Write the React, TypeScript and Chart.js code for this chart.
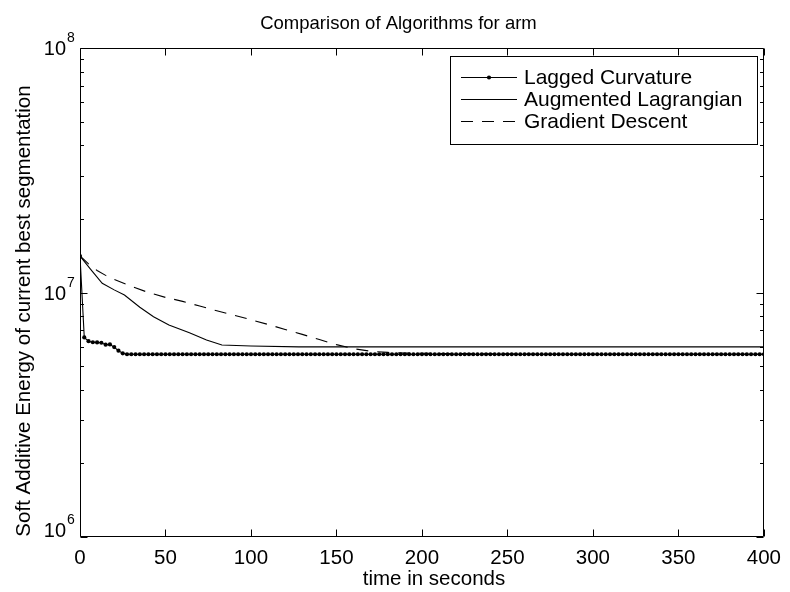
import React, { useEffect, useRef } from "react";
import { Chart, registerables } from "chart.js";

Chart.register(...registerables);

const TITLE = "Comparison of Algorithms for arm";
const X_LABEL = "time in seconds";
const Y_LABEL = "Soft Additive Energy of current best segmentation";
const SERIES_NAMES = ["Lagged Curvature", "Augmented Lagrangian", "Gradient Descent"];

const X_TICKS = [0, 50, 100, 150, 200, 250, 300, 350, 400];
const Y_MAJOR = [1e6, 1e7, 1e8];
const Y_MINOR = [2e6, 3e6, 4e6, 5e6, 6e6, 7e6, 8e6, 9e6, 2e7, 3e7, 4e7, 5e7, 6e7, 7e7, 8e7, 9e7];

const lagTimes = [
  0, 2.5, 5, 7.5, 10, 12.5, 15, 17.5, 20, 22.5,
  25, 27.5, 30, 32.5, 35, 37.5, 40, 42.5, 45, 47.5,
  50, 52.5, 55, 57.5, 60, 62.5, 65, 67.5, 70, 72.5,
  75, 77.5, 80, 82.5, 85, 87.5, 90, 92.5, 95, 97.5,
  100, 102.5, 105, 107.5, 110, 112.5, 115, 117.5, 120, 122.5,
  125, 127.5, 130, 132.5, 135, 137.5, 140, 142.5, 145, 147.5,
  150, 152.5, 155, 157.5, 160, 162.5, 165, 167.5, 170, 172.5,
  175, 177.5, 180, 182.5, 185, 187.5, 190, 192.5, 195, 197.5,
  200, 202.5, 205, 207.5, 210, 212.5, 215, 217.5, 220, 222.5,
  225, 227.5, 230, 232.5, 235, 237.5, 240, 242.5, 245, 247.5,
  250, 252.5, 255, 257.5, 260, 262.5, 265, 267.5, 270, 272.5,
  275, 277.5, 280, 282.5, 285, 287.5, 290, 292.5, 295, 297.5,
  300, 302.5, 305, 307.5, 310, 312.5, 315, 317.5, 320, 322.5,
  325, 327.5, 330, 332.5, 335, 337.5, 340, 342.5, 345, 347.5,
  350, 352.5, 355, 357.5, 360, 362.5, 365, 367.5, 370, 372.5,
  375, 377.5, 380, 382.5, 385, 387.5, 390, 392.5, 395, 397.5,
  400,
];
const lagValues = [
  14100000, 6550000, 6320000, 6260000, 6250000, 6230000, 6120000, 6130000, 5980000, 5780000,
  5640000, 5590000, 5590000, 5590000, 5590000, 5590000, 5590000, 5590000, 5590000, 5590000,
  5590000, 5590000, 5590000, 5590000, 5590000, 5590000, 5590000, 5590000, 5590000, 5590000,
  5590000, 5590000, 5590000, 5590000, 5590000, 5590000, 5590000, 5590000, 5590000, 5590000,
  5590000, 5590000, 5590000, 5590000, 5590000, 5590000, 5590000, 5590000, 5590000, 5590000,
  5590000, 5590000, 5590000, 5590000, 5590000, 5590000, 5590000, 5590000, 5590000, 5590000,
  5590000, 5590000, 5590000, 5590000, 5590000, 5590000, 5590000, 5590000, 5590000, 5590000,
  5590000, 5590000, 5590000, 5590000, 5590000, 5590000, 5590000, 5590000, 5590000, 5590000,
  5590000, 5590000, 5590000, 5590000, 5590000, 5590000, 5590000, 5590000, 5590000, 5590000,
  5590000, 5590000, 5590000, 5590000, 5590000, 5590000, 5590000, 5590000, 5590000, 5590000,
  5590000, 5590000, 5590000, 5590000, 5590000, 5590000, 5590000, 5590000, 5590000, 5590000,
  5590000, 5590000, 5590000, 5590000, 5590000, 5590000, 5590000, 5590000, 5590000, 5590000,
  5590000, 5590000, 5590000, 5590000, 5590000, 5590000, 5590000, 5590000, 5590000, 5590000,
  5590000, 5590000, 5590000, 5590000, 5590000, 5590000, 5590000, 5590000, 5590000, 5590000,
  5590000, 5590000, 5590000, 5590000, 5590000, 5590000, 5590000, 5590000, 5590000, 5590000,
  5590000, 5590000, 5590000, 5590000, 5590000, 5590000, 5590000, 5590000, 5590000, 5590000,
  5590000,
];

const augTimes = [0, 6, 13, 20, 26, 35, 43, 52, 64, 74, 83, 100, 128, 200, 300, 400];
const augValues = [
  14100000, 12500000, 10900000, 10250000, 9770000, 8700000, 7960000, 7360000, 6850000, 6390000,
  6100000, 6040000, 5990000, 5990000, 5990000, 5990000,
];

const gdTimes = [
  0, 5, 10, 15, 20, 30, 40, 50, 60, 70, 80, 90, 100, 110, 120, 130, 140, 150, 160, 170,
  180, 190, 215, 245, 270, 400,
];
const gdValues = [
  14100000, 13100000, 12300000, 11750000, 11300000, 10600000, 10000000, 9550000, 9200000, 8800000,
  8420000, 8080000, 7740000, 7400000, 7060000, 6740000, 6420000, 6120000, 5890000, 5750000,
  5690000, 5650000, 5630000, 5610000, 5590000, 5590000,
];

const FONT = 'Arial, "Liberation Sans", Helvetica, sans-serif';

const zip = (xs: number[], ys: number[]) => xs.map((x, i) => ({ x, y: ys[i] }));

const framePlugin = {
  id: "matlabFrame",
  afterDatasetsDraw(chart: any) {
    const { ctx, chartArea } = chart;
    const xs = chart.scales.x;
    const ys = chart.scales.y;
    const L = Math.round(chartArea.left) + 0.5;
    const R = Math.round(chartArea.right) - 0.5;
    const T = Math.round(chartArea.top) + 0.5;
    const B = Math.round(chartArea.bottom) - 0.5;
    ctx.save();
    ctx.strokeStyle = "#000";
    ctx.lineWidth = 1;
    ctx.beginPath();
    ctx.rect(L, T, R - L, B - T);
    X_TICKS.forEach((v) => {
      const px = Math.round(xs.getPixelForValue(v)) + 0.5;
      ctx.moveTo(px, B);
      ctx.lineTo(px, B - 7);
      ctx.moveTo(px, T);
      ctx.lineTo(px, T + 7);
    });
    Y_MAJOR.forEach((v) => {
      const py = Math.round(ys.getPixelForValue(v)) + 0.5;
      ctx.moveTo(L, py);
      ctx.lineTo(L + 7, py);
      ctx.moveTo(R, py);
      ctx.lineTo(R - 7, py);
    });
    Y_MINOR.forEach((v) => {
      const py = Math.round(ys.getPixelForValue(v)) + 0.5;
      ctx.moveTo(L, py);
      ctx.lineTo(L + 3.5, py);
      ctx.moveTo(R, py);
      ctx.lineTo(R - 3.5, py);
    });
    ctx.stroke();

    ctx.fillStyle = "#000";
    Y_MAJOR.forEach((v, i) => {
      const py = ys.getPixelForValue(v);
      const exp = Math.round(Math.log10(v));
      const base = i === 0 ? py - 0.5 : py + 7;
      ctx.font = `20px ${FONT}`;
      ctx.textAlign = "right";
      ctx.textBaseline = "alphabetic";
      ctx.fillText("10", 66, base);
      ctx.font = `14px ${FONT}`;
      ctx.textAlign = "left";
      ctx.fillText(String(exp), 67, base - 13);
    });

    ctx.font = `18.5px ${FONT}`;
    ctx.textAlign = "center";
    ctx.textBaseline = "alphabetic";
    ctx.fillText(TITLE, 398.5, 28.5);

    ctx.font = `20.5px ${FONT}`;
    ctx.fillText(X_LABEL, 434, 585);

    ctx.save();
    ctx.translate(30, 311);
    ctx.rotate(-Math.PI / 2);
    ctx.fillText(Y_LABEL, 0, 0);
    ctx.restore();

    const lx = 450.5, ly = 56.5, lw = 307, lh = 88;
    ctx.fillStyle = "#fff";
    ctx.fillRect(lx, ly, lw, lh);
    ctx.strokeStyle = "#000";
    ctx.lineWidth = 1;
    ctx.strokeRect(lx, ly, lw, lh);
    const rows = [77, 99, 121];
    chart.data.datasets.forEach((ds: any, i: number) => {
      const y = rows[i] + 0.5;
      ctx.save();
      ctx.strokeStyle = "#000";
      ctx.lineWidth = ds.borderWidth;
      ctx.setLineDash(ds.borderDash || []);
      ctx.beginPath();
      ctx.moveTo(461, y);
      ctx.lineTo(517, y);
      ctx.stroke();
      ctx.restore();
      if (ds.pointRadius > 0) {
        ctx.beginPath();
        ctx.fillStyle = "#000";
        ctx.arc(489, y, ds.pointRadius, 0, Math.PI * 2);
        ctx.fill();
      }
      ctx.fillStyle = "#000";
      ctx.font = `21px ${FONT}`;
      ctx.textAlign = "left";
      ctx.textBaseline = "middle";
      ctx.fillText(SERIES_NAMES[i], 524, rows[i] + 1);
    });
    ctx.restore();
  },
};

export default function App() {
  const ref = useRef<HTMLCanvasElement>(null);
  useEffect(() => {
    if (!ref.current) return;
    const chart = new Chart(ref.current, {
      type: "line",
      data: {
        datasets: [
          {
            label: SERIES_NAMES[0],
            data: zip(lagTimes, lagValues),
            borderColor: "#000",
            backgroundColor: "#000",
            borderWidth: 1.1,
            pointRadius: 2.1,
            pointBorderWidth: 0,
            pointBackgroundColor: "#000",
            tension: 0,
          },
          {
            label: SERIES_NAMES[1],
            data: zip(augTimes, augValues),
            borderColor: "#000",
            borderWidth: 1.1,
            pointRadius: 0,
            tension: 0,
          },
          {
            label: SERIES_NAMES[2],
            data: zip(gdTimes, gdValues),
            borderColor: "#000",
            borderWidth: 1.1,
            borderDash: [12, 9],
            pointRadius: 0,
            tension: 0,
          },
        ],
      },
      options: {
        responsive: false,
        animation: false,
        devicePixelRatio: 1,
        layout: { padding: { top: 48, right: 23, left: 0, bottom: 0 } },
        plugins: {
          legend: { display: false },
          title: { display: false },
          tooltip: { enabled: false },
        },
        events: [],
        scales: {
          x: {
            type: "linear",
            min: 0,
            max: 400,
            afterFit: (s: any) => {
              s.height = 55;
            },
            afterBuildTicks: (s: any) => {
              s.ticks = X_TICKS.map((v) => ({ value: v }));
            },
            grid: { display: false, drawTicks: false },
            border: { display: false },
            ticks: {
              color: "#000",
              font: { family: FONT, size: 20.5 },
              padding: 9,
              maxRotation: 0,
              autoSkip: false,
            },
          },
          y: {
            type: "logarithmic",
            min: 1e6,
            max: 1e8,
            afterFit: (s: any) => {
              s.width = 80;
            },
            grid: { display: false, drawTicks: false },
            border: { display: false },
            ticks: { display: false },
          },
        },
      },
      plugins: [framePlugin],
    });
    return () => chart.destroy();
  }, []);
  return (
    <div style={{ position: "absolute", left: 0, top: 0, width: 790, height: 592, background: "#fff" }}>
      <canvas ref={ref} width={790} height={592} style={{ display: "block" }} />
    </div>
  );
}
